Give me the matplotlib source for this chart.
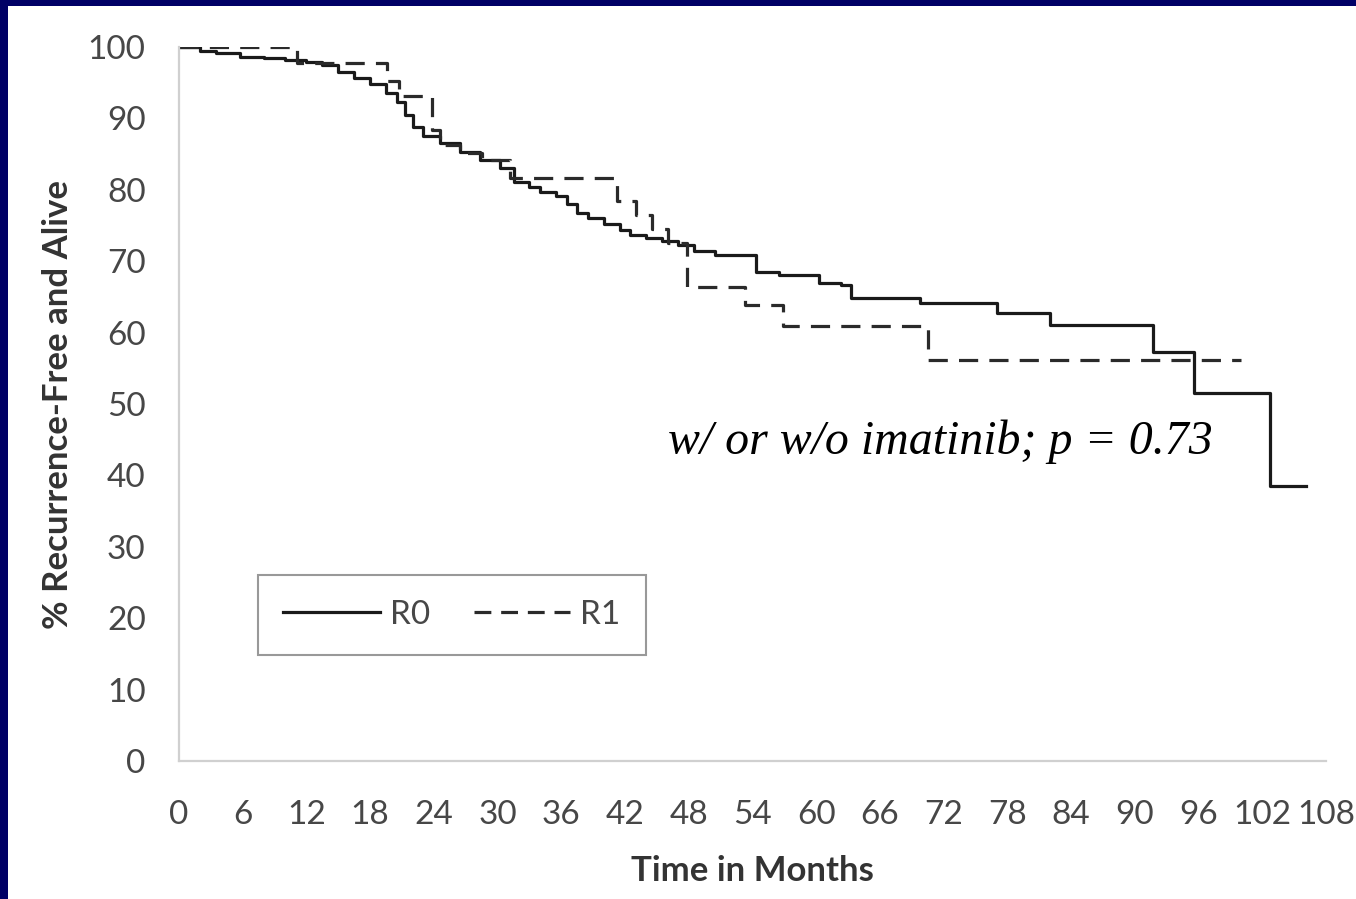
import matplotlib.pyplot as plt
from matplotlib.patches import Rectangle

# Kaplan-Meier steps (months, % recurrence-free and alive)
r0_months = [0, 2.0, 3.5, 5.7, 8.0, 10.0, 12.0, 13.5, 15.0, 16.5, 18.0, 19.5, 20.5,
             21.3, 22.0, 23.0, 24.6, 26.5, 28.3, 30.2, 31.5, 33.0, 34.0, 35.5, 36.5,
             37.5, 38.5, 40.0, 41.5, 42.5, 44.0, 45.5, 47.0, 48.5, 50.5, 54.3, 56.5,
             60.3, 62.3, 63.3, 69.8, 77.0, 82.0, 91.7, 95.6, 102.7, 106.1]
r0_survival = [100, 99.5, 99.2, 98.6, 98.4, 98.2, 97.9, 97.5, 96.5, 95.7, 94.8, 93.6, 92.3,
               90.5, 88.8, 87.6, 86.5, 85.3, 84.2, 83.1, 81.1, 80.4, 79.7, 79.2, 78.0,
               76.8, 76.0, 75.2, 74.4, 73.6, 73.3, 72.8, 72.2, 71.4, 70.9, 68.5, 68.1,
               67.0, 66.6, 64.8, 64.1, 62.7, 61.1, 57.3, 51.5, 38.5, 38.5]

r1_months = [0, 11.1, 19.6, 20.7, 23.8, 24.6, 26.5, 28.5, 31.2, 41.2, 43.0, 44.5, 46.0,
             47.8, 53.3, 56.9, 70.5, 100.0]
r1_survival = [100, 97.7, 95.3, 93.2, 88.4, 86.3, 85.2, 84.2, 81.7, 78.5, 76.5, 74.5, 72.5,
               66.4, 63.9, 60.9, 56.2, 56.2]

x_ticks = list(range(0, 109, 6))
y_ticks = list(range(0, 101, 10))

plt.rcParams['font.family'] = ['Lato', 'DejaVu Sans']

fig = plt.figure(figsize=(13.56, 8.99), dpi=100, facecolor='white')
# navy slide border on the left and top
fig.patches.append(Rectangle((0, 0), 8 / 1356, 1, transform=fig.transFigure,
                             facecolor='#000066', edgecolor='none', zorder=-10))
fig.patches.append(Rectangle((0, 1 - 6 / 899), 1, 6 / 899, transform=fig.transFigure,
                             facecolor='#000066', edgecolor='none', zorder=-10))

ax = fig.add_axes([179 / 1356, 1 - 761 / 899, 1147 / 1356, 714 / 899])
ax.set_facecolor('white')

ax.step(r0_months, r0_survival, where='post', color='#1a1a1a', lw=2.3, label='R0')
ax.step(r1_months, r1_survival, where='post', color='#2a2a2a', lw=2.3,
        linestyle=(0, (6, 3.5)), label='R1')

ax.set_xlim(0, 108)
ax.set_ylim(0, 100)
ax.set_xticks(x_ticks)
ax.set_yticks(y_ticks)
ax.tick_params(length=0, labelsize=24, labelcolor='#474747')
ax.tick_params(axis='y', pad=24)
ax.tick_params(axis='x', pad=28)

for side in ['top', 'right']:
    ax.spines[side].set_visible(False)
for side in ['left', 'bottom']:
    ax.spines[side].set_color('#d0d0d0')
    ax.spines[side].set_linewidth(1.6)

ax.set_xlabel('Time in Months', fontsize=25, fontweight='bold', color='#333333')
ax.set_ylabel('% Recurrence-Free and Alive', fontsize=25, fontweight='bold', color='#333333')
ax.xaxis.set_label_coords(0.5, -0.132)
ax.yaxis.set_label_coords(-0.0915, 0.5)

ax.text(46.0, 44.7, 'w/ or w/o imatinib; p = 0.73', fontsize=34.5, style='italic',
        family='Liberation Serif', ha='left', va='center', color='black')

leg = ax.legend(ncol=2, loc='center', bbox_to_anchor=((452 - 179) / 1147, (761 - 615) / 714),
                fontsize=24, handlelength=2.9, handletextpad=0.3, columnspacing=1.3,
                borderpad=0.75, borderaxespad=0, fancybox=False, frameon=True)
leg.get_frame().set_edgecolor('#808080')
leg.get_frame().set_linewidth(1.5)
leg.get_lines()[1].set_linestyle((0, (5.27, 3.08)))
for t in leg.get_texts():
    t.set_color('#474747')

fig.savefig('out.png', dpi=100, facecolor=fig.get_facecolor())
